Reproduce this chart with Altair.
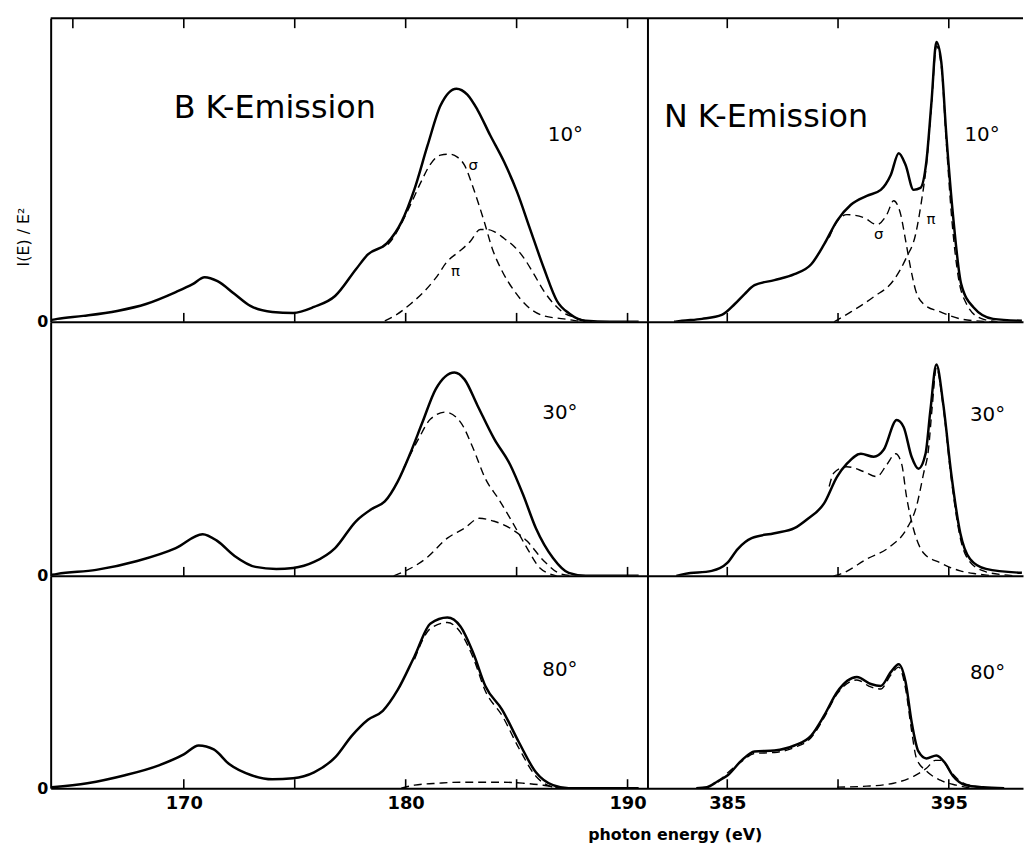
import altair as alt
import pandas as pd

FONT = "DejaVu Sans"

# ---------------- B K-emission (x: photon energy eV, y: intensity, arb. units) ----------------
B10_tot_E = [164.05, 164.3, 165.47, 167.0, 168.3, 169.64, 170.4, 170.94, 171.52, 172.29, 173.0, 173.99,
             174.93, 175.87, 176.82, 177.76, 178.3, 179.15, 179.82, 180.4, 180.99, 181.57, 182.29, 182.78,
             183.23, 183.81, 184.44, 185.02, 185.6, 186.23, 186.82, 187.4, 188.1, 189.2, 190.5]
B10_tot_I = [2, 3, 6, 11, 18, 30, 38, 45, 41, 28, 16, 10,
             9, 15, 26, 53, 68, 79, 101, 134, 178, 218, 235, 229,
             214, 188, 161, 131, 94, 54, 21, 8, 1, 0, 0]
B10_sig_E = [179.2, 179.42, 179.78, 180.22, 180.67, 181.12, 181.57, 181.97, 182.33, 182.65, 183.0, 183.3,
             183.54, 183.9, 184.35, 184.9, 185.47, 186.23, 187.13, 187.7, 188.1]
B10_sig_I = [78, 84, 98, 118, 140, 159, 168, 169, 166, 158, 138, 118,
             101, 74, 51, 31, 16, 6, 3, 1, 0]
B10_pi_E = [179.06, 179.64, 180.22, 180.85, 181.35, 181.88, 182.42, 182.91, 183.36, 183.68, 183.99, 184.44,
            184.89, 185.34, 185.78, 186.23, 186.68, 187.13, 187.7, 188.1, 188.4]
B10_pi_I = [1, 8, 18, 31, 44, 61, 71, 81, 93, 93, 91, 84,
            76, 64, 48, 31, 18, 9, 4, 1, 0]

B30_tot_E = [164.05, 164.3, 166.05, 167.9, 169.64, 170.85, 171.52, 172.29, 173.23, 174.17, 174.93, 175.87,
             176.82, 177.76, 178.52, 179.06, 179.64, 180.18, 180.76, 181.35, 182.2, 182.65, 183.23, 183.99,
             184.71, 185.29, 185.87, 186.64, 187.35, 188.12, 190.5]
B30_tot_I = [1, 2, 6, 15, 28, 42, 35, 20, 9, 7, 8, 14,
             28, 55, 68, 75, 95, 122, 155, 188, 205, 198, 172, 138,
             112, 82, 48, 18, 3, 0, 0]
B30_sig_E = [179.9, 180.58, 181.12, 181.79, 182.47, 183.05, 183.59, 184.17, 184.71, 185.47, 186.05, 186.8]
B30_sig_I = [108, 138, 158, 165, 155, 128, 98, 78, 58, 28, 8, 0]
B30_pi_E = [179.46, 180.0, 180.94, 181.88, 182.65, 183.32, 183.99, 184.71, 185.47, 186.23, 186.99, 187.58]
B30_pi_I = [0, 5, 18, 38, 48, 58, 55, 48, 35, 15, 2, 0]

B80_tot_E = [164.05, 165.65, 167.35, 168.88, 170.0, 170.67, 171.35, 172.06, 173.05, 173.99, 174.93, 175.87,
             176.82, 177.58, 178.3, 178.97, 179.64, 180.4, 181.12, 181.88, 182.47, 183.05, 183.59, 184.35,
             185.11, 185.87, 186.64, 187.35, 190.5]
B80_tot_I = [1, 5, 13, 23, 34, 43, 39, 24, 13, 9, 10, 16,
             31, 53, 69, 78, 99, 133, 166, 172, 163, 136, 103, 79,
             46, 16, 3, 0, 0]
B80_sig_E = [180.4, 181.12, 181.88, 182.47, 183.05, 183.59, 184.35, 185.11, 185.87, 186.64, 187.0]
B80_sig_I = [130, 161, 167, 157, 131, 98, 73, 40, 12, 1, 0]
B80_pi_E = [179.8, 180.4, 181.5, 182.5, 183.4, 184.4, 185.3, 186.2, 187.0]
B80_pi_I = [0, 3, 5, 6, 6, 6, 5, 3, 0]

# ---------------- N K-emission ----------------
N10_tot_E = [382.6, 382.96, 383.86, 384.75, 385.34, 385.78, 386.23, 387.13, 388.03, 388.79, 389.37, 389.96,
             390.58, 391.3, 391.93, 392.38, 392.74, 393.05, 393.41, 393.72, 393.99, 394.22, 394.44, 394.66,
             394.89, 395.2, 395.56, 396.1, 397.0, 398.3]
N10_tot_I = [0, 1, 3, 7, 18, 28, 37, 42, 48, 58, 78, 102,
             118, 127, 133, 148, 170, 158, 133, 135, 162, 222, 282, 262,
             188, 105, 38, 15, 3, 1]
N10_sig_E = [389.6, 389.82, 390.4, 391.17, 391.75, 392.2, 392.51, 392.83, 393.05, 393.27, 393.5, 393.86,
             394.62, 395.52, 396.23, 397.0]
N10_sig_I = [85, 96, 108, 105, 98, 108, 122, 108, 82, 55, 32, 18,
             10, 3, 1, 0]
N10_pi_E = [389.82, 390.58, 391.6, 392.51, 393.09, 393.5, 393.77, 393.99, 394.22, 394.44, 394.66, 394.89,
            395.13, 395.43, 395.8, 396.4, 397.2]
N10_pi_I = [0, 10, 25, 42, 65, 88, 122, 158, 218, 278, 258, 180,
            105, 45, 18, 4, 0]

N30_tot_E = [382.7, 383.09, 384.3, 385.0, 385.47, 386.1, 387.13, 388.03, 388.61, 389.37, 389.96, 390.4,
             391.03, 391.61, 392.06, 392.65, 392.96, 393.32, 393.63, 393.95, 394.17, 394.44, 394.75, 395.11,
             395.52, 395.96, 396.68, 398.3]
N30_tot_I = [0, 2, 5, 13, 27, 38, 43, 48, 57, 73, 100, 113,
             123, 120, 127, 157, 150, 120, 108, 123, 167, 213, 173, 103,
             43, 17, 7, 3]
N30_sig_E = [389.6, 389.82, 390.4, 391.17, 391.75, 392.2, 392.6, 392.87, 393.09, 393.41, 393.86, 394.62,
             395.52, 396.23, 397.0]
N30_sig_I = [90, 104, 110, 105, 100, 112, 123, 113, 80, 47, 23, 13,
             5, 2, 0]
N30_pi_E = [389.8, 390.13, 391.3, 392.38, 393.09, 393.54, 393.86, 394.08, 394.25, 394.44, 394.75, 395.11,
            395.52, 395.96, 396.68, 397.5, 398.0]
N30_pi_I = [0, 2, 17, 30, 47, 70, 103, 127, 170, 210, 170, 98,
            38, 14, 4, 1, 0]

N80_tot_E = [383.6, 384.08, 384.57, 385.02, 385.65, 386.23, 387.13, 388.03, 388.79, 389.37, 389.96, 390.85,
             391.48, 391.93, 392.38, 392.74, 393.05, 393.32, 393.63, 393.99, 394.44, 394.84, 395.2, 395.78,
             396.55, 397.5]
N80_tot_I = [0, 1, 7, 13, 28, 37, 38, 43, 53, 73, 97, 112,
             105, 103, 117, 125, 107, 67, 37, 30, 33, 25, 12, 3,
             1, 0]
N80_sig_E = [384.57, 385.65, 386.23, 387.13, 388.03, 388.79, 389.37, 389.96, 390.85, 391.48, 391.93, 392.38,
             392.74, 393.05, 393.32, 393.54, 394.0, 394.62, 395.34, 396.0]
N80_sig_I = [6, 27, 35, 36, 41, 51, 71, 95, 109, 102, 100, 114,
             122, 100, 58, 30, 17, 8, 3, 0]
N80_pi_E = [389.96, 391.3, 392.51, 393.41, 393.99, 394.39, 394.66, 395.07, 395.52, 396.1, 396.6]
N80_pi_I = [1, 2, 5, 12, 20, 28, 28, 17, 7, 2, 0]

# axis / tick values (the two energy windows share one broken axis)
B_domain = [164.0, 190.92]
N_domain = [381.42, 398.35]
ticks_top = [165, 170, 175, 180, 185, 190, 385, 390, 395]
ticks_row = [170, 175, 180, 185, 190, 385, 390, 395]
tick_labels = [170, 180, 190, 385, 395]
row_max = [306, 256, 214]

# annotations (E, I, text)
titles = [(174.1, 215, "B K-Emission"), (386.75, 206, "N K-Emission")]
angles = ["10°", "30°", "80°"]
B_angle_pos = [(187.2, 188), (186.95, 164), (186.95, 119)]
N_angle_pos = [(396.5, 188), (396.75, 162), (396.75, 116)]
greek = [(183.05, 158, "σ"), (182.25, 51, "π"), (391.84, 88, "σ"), (394.2, 104, "π")]
Y_TITLE = "I(E) / E²"
X_TITLE = "photon energy (eV)"

B_W, N_W = 602, 378
W = B_W + N_W
ROW_H = [306, 256, 214]


def series_df(sets):
    rows = []
    for panel_name, (tot, sig, pi) in sets:
        for name, (es, vs) in (("total", tot), ("sigma", sig), ("pi", pi)):
            for e, v in zip(es, vs):
                rows.append({"E": e, "I": v, "s": name, "p": panel_name})
    return pd.DataFrame(rows)


def row_chart(sets, h, ymax, texts, first, last):
    df = series_df(sets)
    if last:
        xaxis = alt.Axis(values=tick_labels, ticks=False, domain=True, domainColor="black", domainWidth=2,
                         labelFont=FONT, labelFontSize=18, labelFontWeight="bold", labelColor="black",
                         labelPadding=6, labelFlush=False, labelOverlap=False, grid=False, format="d",
                         title=X_TITLE, titleX=B_W + 27, titleY=39, titleBaseline="top",
                         titleAlign="center", titleFont=FONT, titleFontSize=16,
                         titleFontWeight="bold", titleColor="black")
    else:
        xaxis = alt.Axis(labels=False, ticks=False, domain=True, domainColor="black", domainWidth=2,
                         grid=False, title=None)
    yaxis = alt.Axis(values=[0], ticks=False, domain=True, domainColor="black", domainWidth=2,
                     labelFont=FONT, labelFontSize=16, labelFontWeight="bold", labelColor="black",
                     labelPadding=3, grid=False,
                     title=Y_TITLE if first else None,
                     **({"titleY": 220, "titleFont": FONT, "titleFontSize": 16, "titleFontWeight": "normal",
                         "titleColor": "black", "titlePadding": 5} if first else {}))
    X = alt.X("E:Q", scale=alt.Scale(domain=[B_domain[0], B_domain[1], N_domain[0], N_domain[1]],
                                     range=[0, B_W, B_W, W], nice=False, zero=False), axis=xaxis)
    Y = alt.Y("I:Q", scale=alt.Scale(domain=[0, ymax], nice=False, zero=False), axis=yaxis)

    base = alt.Chart(df)
    layers = []
    # each component drawn separately so the two energy windows never join
    for p in ("B", "N"):
        for s in ("sigma", "pi"):
            layers.append(base.transform_filter((alt.datum.s == s) & (alt.datum.p == p)).mark_line(
                color="black", strokeWidth=1.4, strokeDash=[8, 5], clip=True,
                interpolate="monotone").encode(x=X, y=Y))
    for p in ("B", "N"):
        layers.append(base.transform_filter((alt.datum.s == "total") & (alt.datum.p == p)).mark_line(
            color="black", strokeWidth=2.5, clip=True, interpolate="monotone").encode(x=X, y=Y))

    layers.append(alt.Chart(pd.DataFrame({"E": ticks_row})).mark_rule(color="black", strokeWidth=1.6).encode(
        x=X, y=alt.value(h), y2=alt.value(h - 9)))
    # divider between the two energy windows
    layers.append(alt.Chart(pd.DataFrame({"E": [N_domain[0]]})).mark_rule(color="black", strokeWidth=2).encode(
        x=X, y=alt.value(0), y2=alt.value(h)))
    if first:
        layers.append(alt.Chart(pd.DataFrame({"E": ticks_top})).mark_rule(color="black", strokeWidth=1.6).encode(
            x=X, y=alt.value(0), y2=alt.value(10)))
        layers.append(alt.Chart(pd.DataFrame({"a": [0]})).mark_rule(color="black", strokeWidth=2).encode(
            x=alt.value(0), x2=alt.value(W), y=alt.value(0)))
    for (e, v, t, size) in texts:
        layers.append(alt.Chart(pd.DataFrame({"E": [e], "I": [v], "t": [t]})).mark_text(
            font=FONT, fontSize=size, color="black", align="center", baseline="middle").encode(
            x=X, y=Y, text="t:N"))
    return alt.layer(*layers).properties(width=W, height=h)


sets_by_row = [
    [("B", ((B10_tot_E, B10_tot_I), (B10_sig_E, B10_sig_I), (B10_pi_E, B10_pi_I))),
     ("N", ((N10_tot_E, N10_tot_I), (N10_sig_E, N10_sig_I), (N10_pi_E, N10_pi_I)))],
    [("B", ((B30_tot_E, B30_tot_I), (B30_sig_E, B30_sig_I), (B30_pi_E, B30_pi_I))),
     ("N", ((N30_tot_E, N30_tot_I), (N30_sig_E, N30_sig_I), (N30_pi_E, N30_pi_I)))],
    [("B", ((B80_tot_E, B80_tot_I), (B80_sig_E, B80_sig_I), (B80_pi_E, B80_pi_I))),
     ("N", ((N80_tot_E, N80_tot_I), (N80_sig_E, N80_sig_I), (N80_pi_E, N80_pi_I)))],
]

rows = []
for r in range(3):
    texts = [(B_angle_pos[r][0], B_angle_pos[r][1], angles[r], 20),
             (N_angle_pos[r][0], N_angle_pos[r][1], angles[r], 20)]
    if r == 0:
        texts += [(e, v, t, 32) for e, v, t in titles] + [(e, v, t, 15) for e, v, t in greek]
    rows.append(row_chart(sets_by_row[r], ROW_H[r], row_max[r], texts, r == 0, r == 2))

chart = alt.vconcat(*rows, spacing=0, bounds="flush").properties(
    padding={"left": 7, "top": 6, "right": 0, "bottom": 2},
    background="white",
).configure_view(stroke=None)

chart.save("out.html", embed_options={"renderer": "svg", "actions": False})
